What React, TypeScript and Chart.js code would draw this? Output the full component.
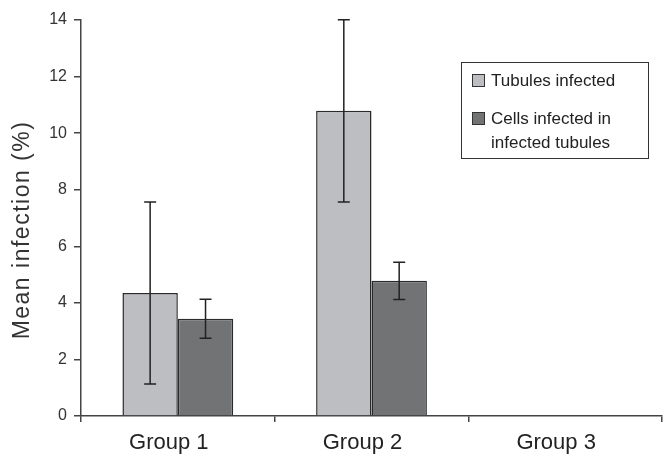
import React, { useEffect, useRef } from "react";
import { Chart, registerables } from "chart.js";

Chart.register(...registerables);

const categories = ["Group 1", "Group 2", "Group 3"];
const tubulesInfected = [4.35, 10.79, null];
const tubulesErr = [3.22, 3.22, null];
const cellsInfected = [3.44, 4.78, null];
const cellsErr = [0.69, 0.66, null];
const yTicks = [0, 2, 4, 6, 8, 10, 12, 14];
const seriesNames = ["Tubules infected", "Cells infected in", "infected tubules"];
const yTitle = "Mean infection (%)";

const FONT = "'Liberation Sans', Arial, Helvetica, sans-serif";
const LIGHT = "#bdbec2";
const DARK = "#727375";
const EDGE = "#2a2a2a";

const errorBarPlugin = {
  id: "errorBars",
  afterDatasetsDraw(chart: any) {
    const ctx = chart.ctx;
    const yScale = chart.scales.y;
    const errs = [tubulesErr, cellsErr];
    ctx.save();
    ctx.strokeStyle = "#222";
    ctx.lineWidth = 1.5;
    chart.data.datasets.forEach((ds: any, di: number) => {
      const meta = chart.getDatasetMeta(di);
      meta.data.forEach((el: any, i: number) => {
        const v = ds.data[i];
        const e = errs[di][i];
        if (v == null || e == null) return;
        const x = el.x;
        const yTop = yScale.getPixelForValue(v + e);
        const yBot = yScale.getPixelForValue(v - e);
        ctx.beginPath();
        ctx.moveTo(x, yTop);
        ctx.lineTo(x, yBot);
        ctx.moveTo(x - 6, yTop);
        ctx.lineTo(x + 6, yTop);
        ctx.moveTo(x - 6, yBot);
        ctx.lineTo(x + 6, yBot);
        ctx.stroke();
      });
    });
    ctx.restore();
  },
};

const decorPlugin = {
  id: "decor",
  afterDraw(chart: any) {
    const ctx = chart.ctx;
    // y axis title
    ctx.save();
    ctx.translate(23, 230);
    ctx.rotate(-Math.PI / 2);
    ctx.font = `23px ${FONT}`;
    (ctx as any).letterSpacing = "1.5px";
    ctx.fillStyle = "#333";
    ctx.textAlign = "center";
    ctx.textBaseline = "middle";
    ctx.fillText(yTitle, 0, 0);
    ctx.restore();

    // legend
    ctx.save();
    ctx.strokeStyle = "#333";
    ctx.lineWidth = 1;
    ctx.strokeRect(461.5, 62.5, 187, 96);
    ctx.fillStyle = LIGHT;
    ctx.fillRect(472, 74, 12, 12);
    ctx.strokeRect(472.5, 74.5, 12, 12);
    ctx.fillStyle = DARK;
    ctx.fillRect(472, 112, 12, 12);
    ctx.strokeRect(472.5, 112.5, 12, 12);
    ctx.font = `17px ${FONT}`;
    ctx.fillStyle = "#222";
    ctx.textAlign = "left";
    ctx.textBaseline = "alphabetic";
    ctx.fillText(seriesNames[0], 491, 86);
    ctx.fillText(seriesNames[1], 491, 124);
    ctx.fillText(seriesNames[2], 491, 148);
    ctx.restore();
  },
};

export default function App() {
  const ref = useRef<HTMLCanvasElement>(null);
  useEffect(() => {
    if (!ref.current) return;
    const chart = new Chart(ref.current, {
      type: "bar",
      data: {
        labels: categories,
        datasets: [
          {
            label: seriesNames[0],
            data: tubulesInfected as any,
            backgroundColor: LIGHT,
            borderColor: EDGE,
            borderWidth: 1.5,
            categoryPercentage: 0.572,
            barPercentage: 1,
          },
          {
            label: seriesNames[1] + " " + seriesNames[2],
            data: cellsInfected as any,
            backgroundColor: DARK,
            borderColor: EDGE,
            borderWidth: 1.5,
            categoryPercentage: 0.572,
            barPercentage: 1,
          },
        ],
      },
      options: {
        responsive: false,
        animation: false,
        layout: { padding: { left: 0, top: 20, right: 2, bottom: 0 } },
        plugins: {
          legend: { display: false },
          tooltip: { enabled: false },
        },
        scales: {
          x: {
            grid: {
              display: true,
              drawOnChartArea: false,
              drawTicks: true,
              tickLength: 6,
              color: "#444",
              lineWidth: 1.5,
              offset: true,
            },
            border: { display: true, color: "#444", width: 1.5 },
            ticks: {
              font: { size: 22, family: FONT },
              color: "#222",
              padding: 8,
              labelOffset: -9,
            },
            afterFit: (s: any) => {
              s.height = 42;
            },
          },
          y: {
            min: 0,
            max: 14,
            afterBuildTicks: (s: any) => {
              s.ticks = yTicks.map((v) => ({ value: v }));
            },
            grid: {
              display: true,
              drawOnChartArea: false,
              drawTicks: true,
              tickLength: 7,
              color: "#444",
              lineWidth: 1.5,
            },
            border: { display: true, color: "#444", width: 1.5 },
            ticks: {
              font: { size: 16, family: FONT },
              color: "#333",
              padding: 7,
            },
            afterFit: (s: any) => {
              s.width = 81;
            },
          },
        },
      },
      plugins: [errorBarPlugin, decorPlugin],
    });
    return () => chart.destroy();
  }, []);
  return (
    <div style={{ position: "absolute", left: 0, top: 0, width: 664, height: 458, background: "#fff" }}>
      <canvas ref={ref} width={664} height={458} />
    </div>
  );
}
